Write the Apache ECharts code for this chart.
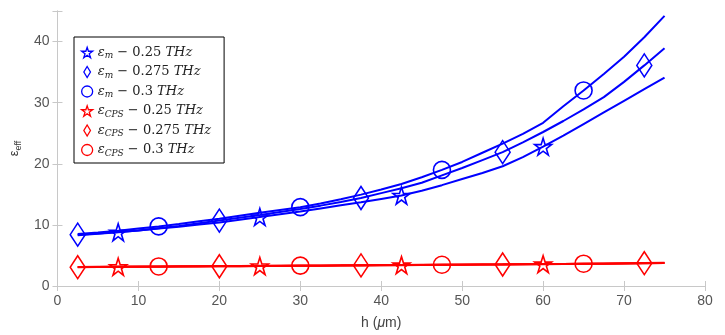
<!DOCTYPE html>
<html>
<head>
<meta charset="utf-8">
<script src="https://cdn.jsdelivr.net/npm/echarts@6/dist/echarts.min.js"></script>
<style>
  html, body { margin: 0; padding: 0; background: #fff; }
  #chart { width: 725px; height: 335px; }
</style>
</head>
<body>
<div id="chart"></div>
<script>
// h (um) sample points
const hVals = [2.5, 5, 7.5, 10, 12.5, 15, 17.5, 20, 22.5, 25, 27.5, 30, 32.5, 35, 37.5,
  40, 42.5, 45, 47.5, 50, 52.5, 55, 57.5, 60, 62.5, 65, 67.5, 70, 72.5, 75];

// eps_m
const em025 = [8.3, 8.55, 8.8, 9.1, 9.4, 9.7, 10.05, 10.4, 10.85, 11.3, 11.75, 12.2, 12.7, 13.2, 13.7,
  14.25, 14.8, 15.6, 16.5, 17.5, 18.5, 19.6, 21.1, 22.8, 24.6, 26.5, 28.4, 30.3, 32.2, 34.1];
const em0275 = [8.4, 8.6, 8.85, 9.1, 9.45, 9.8, 10.25, 10.7, 11.15, 11.6, 12.1, 12.6, 13.15, 13.75, 14.4,
  15.2, 16.0, 16.9, 18.1, 19.3, 20.6, 21.9, 23.5, 25.2, 27.0, 28.9, 30.9, 33.4, 36.1, 38.9];
const em03 = [8.5, 8.75, 9.05, 9.4, 9.75, 10.15, 10.6, 11.0, 11.5, 12.0, 12.45, 12.9, 13.5, 14.2, 14.95,
  15.8, 16.7, 17.8, 19.0, 20.3, 21.8, 23.3, 24.9, 26.7, 29.4, 32.0, 34.7, 37.5, 40.7, 44.2];

// eps_CPS
const ecps025 = [3.1, 3.12, 3.15, 3.16, 3.18, 3.2, 3.22, 3.24, 3.25, 3.27, 3.3, 3.32, 3.33, 3.35, 3.38,
  3.4, 3.42, 3.44, 3.46, 3.48, 3.5, 3.52, 3.55, 3.58, 3.6, 3.63, 3.66, 3.7, 3.74, 3.78];
const ecps0275 = [3.08, 3.1, 3.13, 3.15, 3.17, 3.19, 3.21, 3.23, 3.25, 3.27, 3.29, 3.31, 3.33, 3.35, 3.37,
  3.39, 3.41, 3.43, 3.46, 3.48, 3.5, 3.52, 3.55, 3.57, 3.6, 3.63, 3.66, 3.69, 3.73, 3.77];
const ecps03 = [3.12, 3.14, 3.16, 3.18, 3.2, 3.22, 3.24, 3.26, 3.28, 3.3, 3.32, 3.34, 3.36, 3.38, 3.4,
  3.42, 3.44, 3.46, 3.48, 3.5, 3.52, 3.54, 3.57, 3.6, 3.62, 3.65, 3.68, 3.71, 3.75, 3.79];

// where the markers sit
const starMarks = [7.5, 25, 42.5, 60];
const diamondMarks = [2.5, 20, 37.5, 55, 72.5];
const circleMarks = [12.5, 30, 47.5, 65];

const xTicks = [0, 10, 20, 30, 40, 50, 60, 70, 80];
const yTicks = [0, 10, 20, 30, 40];

const BLUE = '#0000ff';
const RED = '#ff0000';
const STAR = 'path://M50,0L61.2,34.5L97.6,34.5L68.2,55.9L79.4,90.5L50,69.1L20.6,90.5L31.8,55.9L2.4,34.5L38.8,34.5Z';
const DIAMOND = 'path://M30,0L60,50L30,100L0,50Z';

const makeSeries = (name, ys, color, symbol, marks, size) => ({
  name: name,
  type: 'line',
  data: hVals.map((h, i) => [h, ys[i]]),
  symbol: symbol,
  showSymbol: true,
  showAllSymbol: true,
  symbolSize: (val) => marks.includes(val[0]) ? size : 0,
  lineStyle: { color: color, width: 2 },
  itemStyle: { color: 'rgba(0,0,0,0)', borderColor: color, borderWidth: 1.6 },
  emphasis: { disabled: true },
  z: 3
});

const legendText = {
  'em025': '{e|ε}{s|m}{t| − 0.25 }{e|THz}',
  'em0275': '{e|ε}{s|m}{t| − 0.275 }{e|THz}',
  'em03': '{e|ε}{s|m}{t| − 0.3 }{e|THz}',
  'ecps025': '{e|ε}{s|CPS}{t| − 0.25 }{e|THz}',
  'ecps0275': '{e|ε}{s|CPS}{t| − 0.275 }{e|THz}',
  'ecps03': '{e|ε}{s|CPS}{t| − 0.3 }{e|THz}'
};

const chart = echarts.init(document.getElementById('chart'));

chart.setOption({
  animation: false,
  grid: { left: 47, right: 20, top: 11, bottom: 47, show: false },
  legend: {
    left: 74,
    top: 37,
    orient: 'vertical',
    backgroundColor: '#fff',
    borderColor: '#000',
    borderWidth: 1,
    padding: [9, 13, 5, 7],
    itemWidth: 11,
    itemHeight: 11,
    itemGap: 5,
    lineStyle: { opacity: 0 },
    itemStyle: { color: 'rgba(0,0,0,0)', borderWidth: 1.3 },
    data: [
      { name: 'em025', icon: STAR },
      { name: 'em0275', icon: DIAMOND },
      { name: 'em03', icon: 'circle' },
      { name: 'ecps025', icon: STAR },
      { name: 'ecps0275', icon: DIAMOND },
      { name: 'ecps03', icon: 'circle' }
    ],
    formatter: (name) => legendText[name],
    textStyle: {
      rich: {
        e: { fontFamily: 'DejaVu Serif', fontStyle: 'italic', fontSize: 13, color: '#222' },
        s: { fontFamily: 'DejaVu Serif', fontStyle: 'italic', fontSize: 9, color: '#222', padding: [7, 0, 0, 0] },
        t: { fontFamily: 'DejaVu Serif', fontSize: 13, color: '#222' }
      }
    }
  },
  xAxis: [{
    type: 'value',
    min: 0, max: 80, interval: 10,
    name: 'h ({m|μ}m)',
    nameLocation: 'middle',
    nameGap: 30,
    nameTextStyle: {
      fontFamily: 'Liberation Sans', fontSize: 14, color: '#444',
      rich: { m: { fontFamily: 'Liberation Sans', fontStyle: 'italic', fontSize: 14, color: '#444' } }
    },
    axisLine: { show: true, lineStyle: { color: '#c8c8c8' } },
    axisTick: { inside: true, length: 5, lineStyle: { color: '#c8c8c8' } },
    axisLabel: { fontFamily: 'Liberation Sans', fontSize: 14, color: '#555', margin: 8,
      formatter: (v) => xTicks.includes(v) ? String(v) : '' },
    splitLine: { show: false }
  }, {
    type: 'value', position: 'top',
    min: 0, max: 80, interval: 10,
    axisLine: { show: true, lineStyle: { color: '#c8c8c8' } },
    axisTick: { inside: true, length: 5, lineStyle: { color: '#c8c8c8' } },
    axisLabel: { show: false },
    splitLine: { show: false }
  }],
  yAxis: [{
    type: 'value',
    min: 0, max: 45, interval: 10,
    name: '{e|ε}{s|eff}',
    nameLocation: 'middle',
    nameGap: 32,
    nameTextStyle: {
      rich: {
        e: { fontFamily: 'Liberation Sans', fontSize: 13, color: '#333' },
        s: { fontFamily: 'Liberation Sans', fontSize: 9, color: '#333', padding: [8, 0, 0, 0] }
      }
    },
    axisLine: { show: true, lineStyle: { color: '#c8c8c8' } },
    axisTick: { inside: true, length: 5, lineStyle: { color: '#c8c8c8' } },
    axisLabel: { fontFamily: 'Liberation Sans', fontSize: 14, color: '#555', margin: 8,
      formatter: (v) => yTicks.includes(v) ? String(v) : '' },
    splitLine: { show: false }
  }, {
    type: 'value', position: 'right',
    min: 0, max: 45, interval: 10,
    axisLine: { show: true, lineStyle: { color: '#c8c8c8' } },
    axisTick: { inside: true, length: 5, lineStyle: { color: '#c8c8c8' } },
    axisLabel: { show: false },
    splitLine: { show: false }
  }],
  series: [
    makeSeries('em025', em025, BLUE, STAR, starMarks, 17),
    makeSeries('em0275', em0275, BLUE, DIAMOND, diamondMarks, [15, 23]),
    makeSeries('em03', em03, BLUE, 'circle', circleMarks, 17),
    makeSeries('ecps025', ecps025, RED, STAR, starMarks, 17),
    makeSeries('ecps0275', ecps0275, RED, DIAMOND, diamondMarks, [15, 23]),
    makeSeries('ecps03', ecps03, RED, 'circle', circleMarks, 17)
  ]
});
</script>
</body>
</html>
